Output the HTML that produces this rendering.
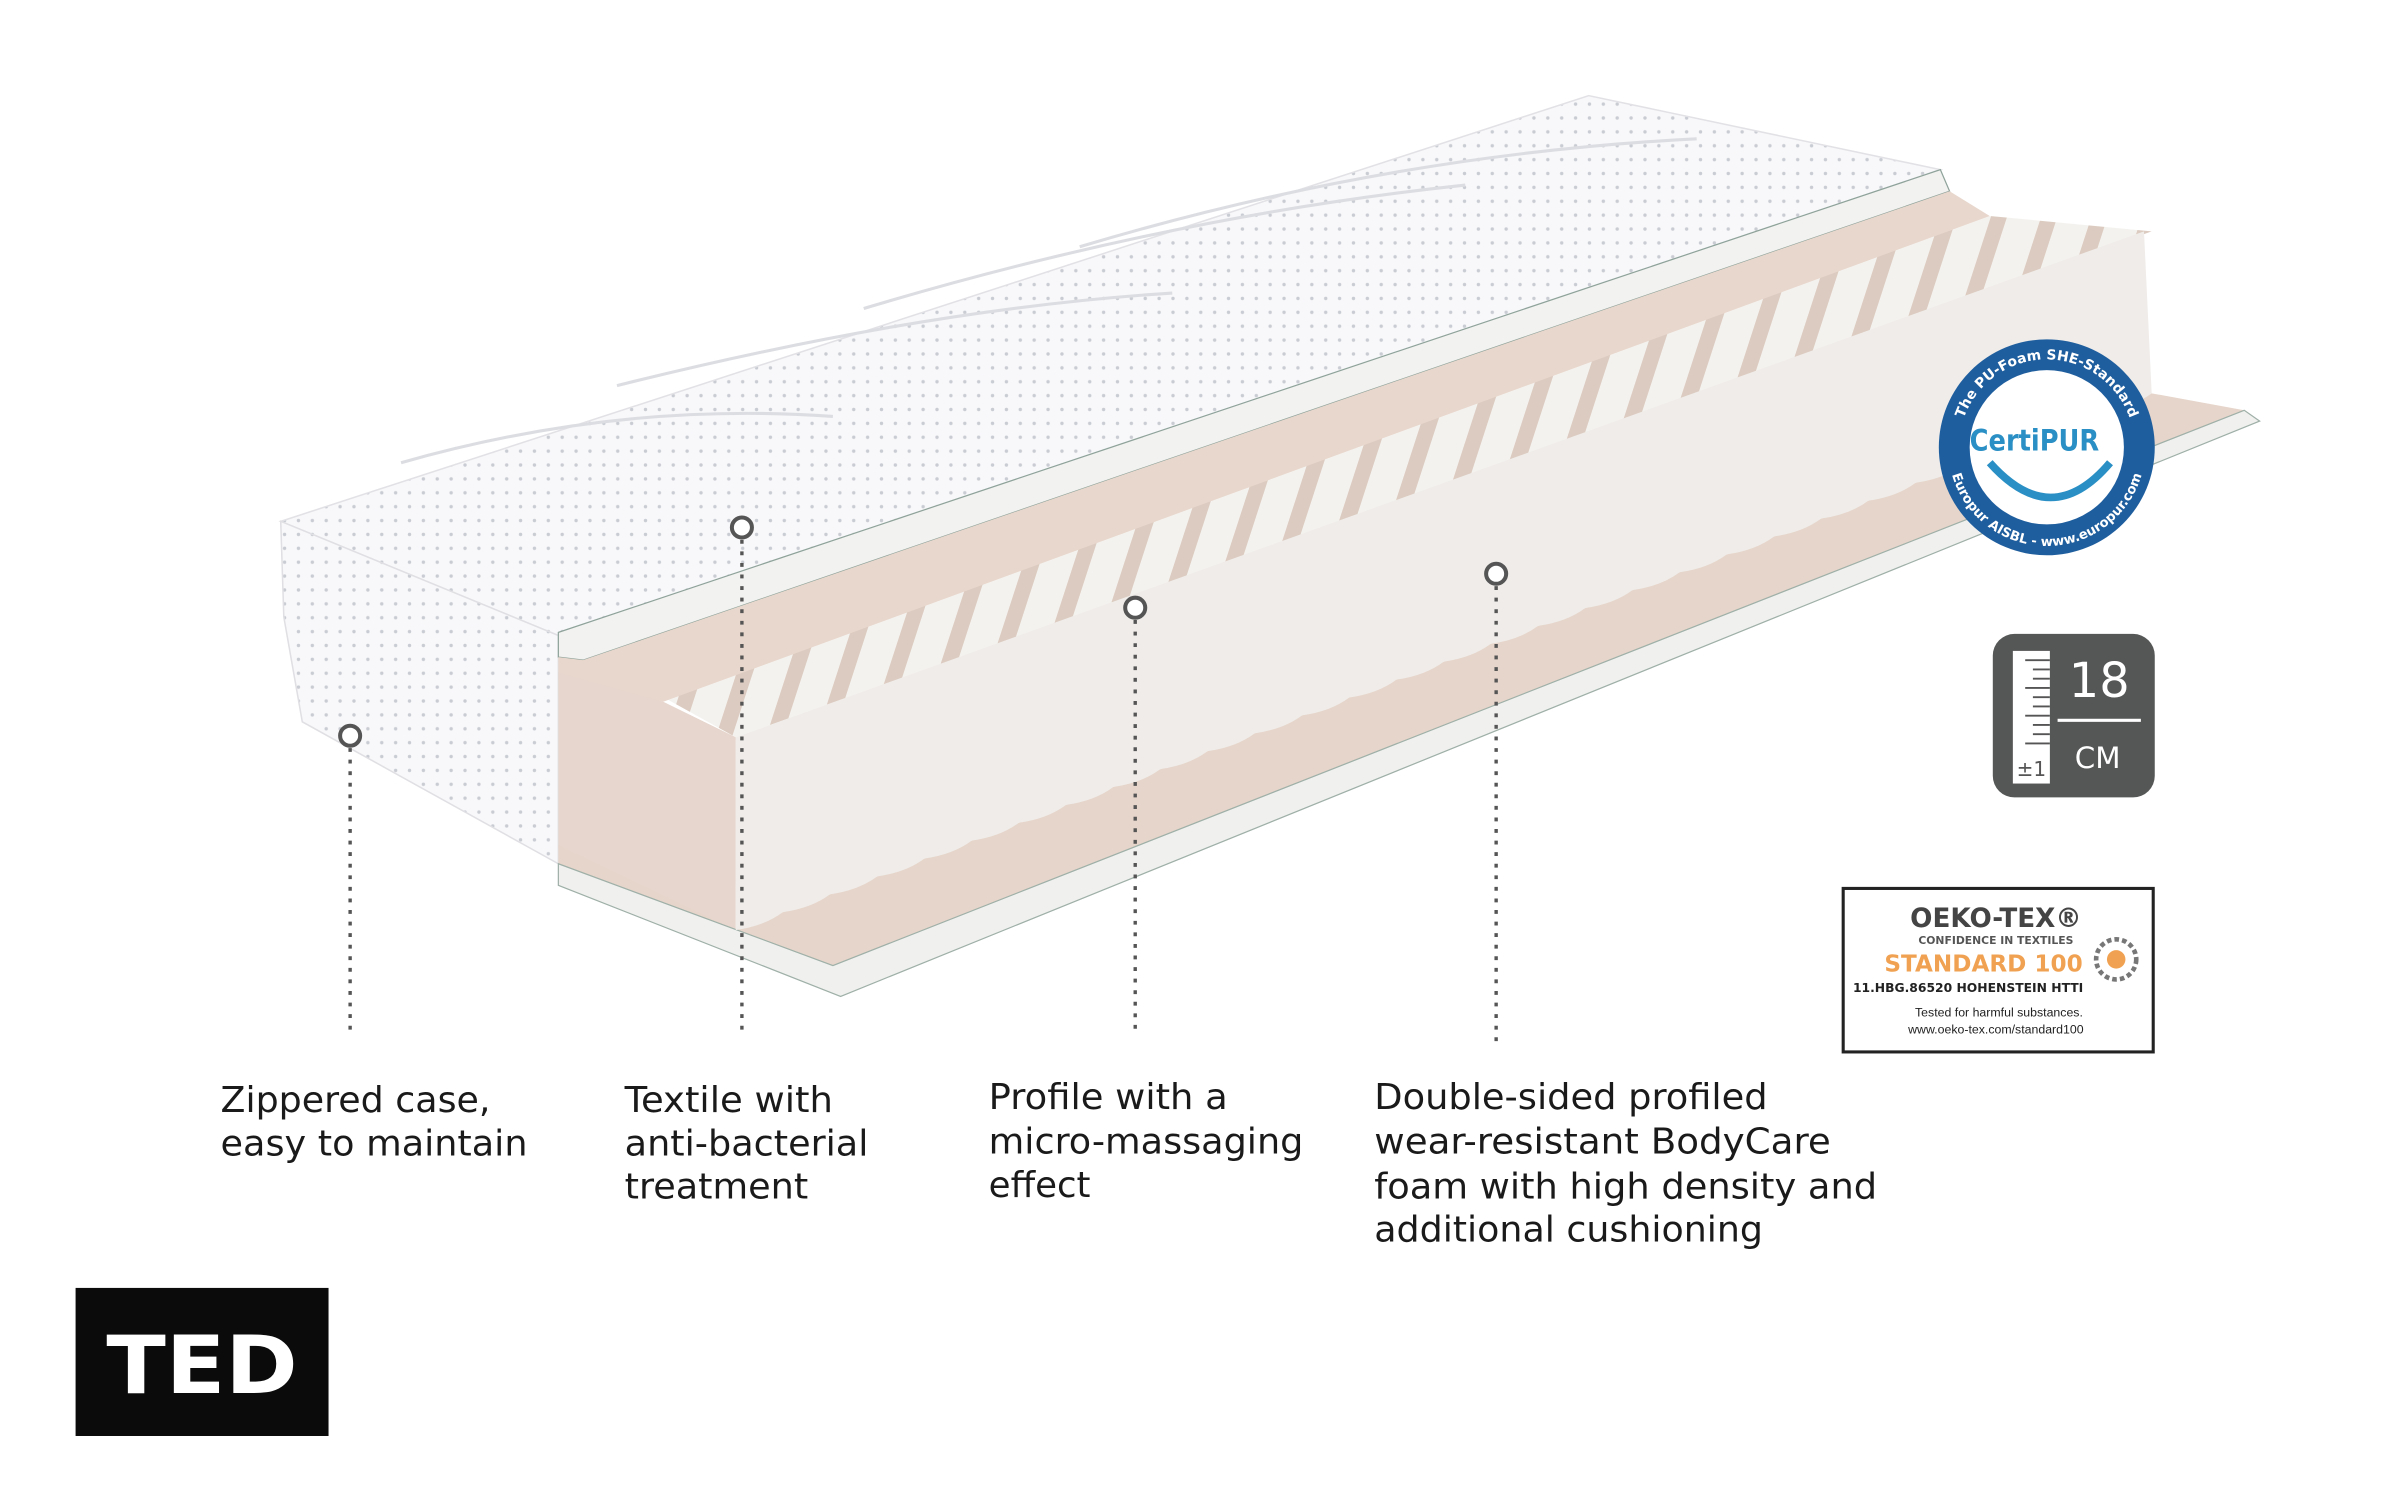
<!DOCTYPE html>
<html><head><meta charset="utf-8"><style>
html,body{margin:0;padding:0;background:#fff;width:2400px;height:1500px;overflow:hidden}
svg{display:block}
.lb{font-family:"DejaVu Sans","Liberation Sans",sans-serif;font-size:23px;fill:#1a1a1a}
</style></head><body>
<svg width="2400" height="1500" viewBox="0 0 1556 972.5" preserveAspectRatio="none" xmlns="http://www.w3.org/2000/svg">
<defs>
<pattern id="dots" width="9" height="9" patternUnits="userSpaceOnUse">
<rect width="9" height="9" fill="#f8f8fa"/><circle cx="4.5" cy="4.5" r="1.1" fill="#c9ccd3"/></pattern>
<pattern id="ridge" width="31" height="60" patternUnits="userSpaceOnUse" patternTransform="rotate(18)">
<rect width="31" height="60" fill="#f4f2ef"/><rect x="0" width="10" height="60" fill="#dccbc0"/></pattern>
</defs>
<!-- top surface -->
<polygon points="182,338 1030,62 1258,110 362,412" fill="url(#dots)" stroke="#e2e2e6"/>
<path d="M260,300 Q400,260 540,270 M400,250 Q600,200 760,190 M560,200 Q760,140 950,120 M700,160 Q900,100 1100,90" stroke="#dcdde2" fill="none" stroke-width="2"/>
<!-- left end face -->
<polygon points="182,338 362,412 362,560 196,468 184,400" fill="url(#dots)" stroke="#e0e0e4"/>
<!-- ridge band -->
<polygon points="430,452 1290,140 1395,150 477,478" fill="url(#ridge)"/>
<!-- top white layer -->
<polygon points="362,410 1258,110 1264,124 378,428 362,426" fill="#f2f2f0" stroke="#8fa39b" stroke-width="0.8"/>
<!-- upper beige band -->
<polygon points="378,428 1264,124 1290,140 430,455 362,440 362,426" fill="#e8d7cc"/>
<!-- beige left end -->
<polygon points="362,436 430,455 477,478 477,603 362,550" fill="#e6d6cd"/>
<!-- bottom beige -->
<polygon points="362,548 477,603 1395,255 1455,266 540,628 362,562" fill="#e6d5ca"/>
<!-- bottom white strip -->
<polygon points="362,560 540,626 1455,266 1465,273 545,646 362,574" fill="#f0f1ef" stroke="#9fb0a8" stroke-width="0.8"/>
<!-- foam front face with wavy bottom -->
<path d="M477,478 L1390,150 L1395,255 q-12,9 -30.6,11.6 q-12,9 -30.6,11.6 q-12,9 -30.6,11.6 q-12,9 -30.6,11.6 q-12,9 -30.6,11.6 q-12,9 -30.6,11.6 q-12,9 -30.6,11.6 q-12,9 -30.6,11.6 q-12,9 -30.6,11.6 q-12,9 -30.6,11.6 q-12,9 -30.6,11.6 q-12,9 -30.6,11.6 q-12,9 -30.6,11.6 q-12,9 -30.6,11.6 q-12,9 -30.6,11.6 q-12,9 -30.6,11.6 q-12,9 -30.6,11.6 q-12,9 -30.6,11.6 q-12,9 -30.6,11.6 q-12,9 -30.6,11.6 q-12,9 -30.6,11.6 q-12,9 -30.6,11.6 q-12,9 -30.6,11.6 q-12,9 -30.6,11.6 q-12,9 -30.6,11.6 q-12,9 -30.6,11.6 q-12,9 -30.6,11.6 q-12,9 -30.6,11.6 q-12,9 -30.6,11.6 q-12,9 -30.6,11.6 Z" fill="#efece9"/>
<!-- connectors -->
<g stroke="#555" stroke-width="2.2" stroke-dasharray="2.5 5" fill="none">
<line x1="227" y1="485" x2="227" y2="670"/>
<line x1="481" y1="350" x2="481" y2="670"/>
<line x1="736" y1="402" x2="736" y2="668"/>
<line x1="970" y1="380" x2="970" y2="678"/>
</g>
<g fill="#fff" stroke="#555" stroke-width="2.6">
<circle cx="227" cy="477" r="6.5"/><circle cx="481" cy="342" r="6.5"/><circle cx="736" cy="394" r="6.5"/><circle cx="970" cy="372" r="6.5"/>
</g>
<!-- labels -->
<text class="lb" x="143" y="721" textLength="175" lengthAdjust="spacingAndGlyphs">Zippered case,</text>
<text class="lb" x="143" y="749" textLength="199" lengthAdjust="spacingAndGlyphs">easy to maintain</text>
<text class="lb" x="405" y="721" textLength="135" lengthAdjust="spacingAndGlyphs">Textile with</text>
<text class="lb" x="405" y="749" textLength="158" lengthAdjust="spacingAndGlyphs">anti-bacterial</text>
<text class="lb" x="405" y="777" textLength="119" lengthAdjust="spacingAndGlyphs">treatment</text>
<text class="lb" x="641" y="719" textLength="155" lengthAdjust="spacingAndGlyphs">Profile with a</text>
<text class="lb" x="641" y="748" textLength="204" lengthAdjust="spacingAndGlyphs">micro-massaging</text>
<text class="lb" x="641" y="776" textLength="66" lengthAdjust="spacingAndGlyphs">effect</text>
<text class="lb" x="891" y="719" textLength="255" lengthAdjust="spacingAndGlyphs">Double-sided profiled</text>
<text class="lb" x="891" y="748" textLength="296" lengthAdjust="spacingAndGlyphs">wear-resistant BodyCare</text>
<text class="lb" x="891" y="777" textLength="326" lengthAdjust="spacingAndGlyphs">foam with high density and</text>
<text class="lb" x="891" y="805" textLength="252" lengthAdjust="spacingAndGlyphs">additional cushioning</text>
<!-- TED logo -->
<rect x="49" y="835" width="164" height="96" fill="#0b0b0b"/>
<text x="131" y="903" text-anchor="middle" font-family="DejaVu Sans,sans-serif" font-weight="bold" font-size="52" fill="#fff" textLength="124" lengthAdjust="spacingAndGlyphs">TED</text>
<!-- CertiPUR -->
<circle cx="1327" cy="290" r="70" fill="#1f5e9e"/>
<circle cx="1327" cy="290" r="50" fill="#fff"/>
<path d="M1290,300 Q1330,345 1368,300" stroke="#2a8fc4" stroke-width="5" fill="none"/>
<text x="1319" y="292" text-anchor="middle" font-family="DejaVu Sans,sans-serif" font-weight="bold" font-size="19" fill="#2a8fc4" textLength="84" lengthAdjust="spacingAndGlyphs">CertiPUR</text>
<path id="arcT" d="M1270,290 A57,57 0 0 1 1384,290" fill="none"/>
<path id="arcB" d="M1263,290 A64,64 0 0 0 1391,290" fill="none"/>
<text font-family="DejaVu Sans,sans-serif" font-size="9" font-weight="bold" fill="#fff"><textPath href="#arcT" startOffset="50%" text-anchor="middle">The PU-Foam SHE-Standard</textPath></text>
<text font-family="DejaVu Sans,sans-serif" font-size="8.5" font-weight="bold" fill="#fff"><textPath href="#arcB" startOffset="50%" text-anchor="middle">Europur AISBL - www.europur.com</textPath></text>
<!-- 18 cm badge -->
<rect x="1292" y="411" width="105" height="106" rx="14" fill="#555656"/>
<rect x="1305" y="422" width="24" height="86" fill="#fff"/>
<g stroke="#555" stroke-width="1.2"><line x1="1313" y1="428" x2="1329" y2="428"/><line x1="1318" y1="434" x2="1329" y2="434"/><line x1="1318" y1="440" x2="1329" y2="440"/><line x1="1313" y1="446" x2="1329" y2="446"/><line x1="1318" y1="452" x2="1329" y2="452"/><line x1="1318" y1="458" x2="1329" y2="458"/><line x1="1313" y1="464" x2="1329" y2="464"/><line x1="1318" y1="470" x2="1329" y2="470"/><line x1="1318" y1="476" x2="1329" y2="476"/><line x1="1313" y1="482" x2="1329" y2="482"/></g>
<text x="1317" y="503" text-anchor="middle" font-family="DejaVu Sans,sans-serif" font-size="13" fill="#555">±1</text>
<text x="1361" y="452" text-anchor="middle" font-family="DejaVu Sans,sans-serif" font-size="31" fill="#fff">18</text>
<rect x="1334" y="466" width="54" height="2" fill="#fff"/>
<text x="1360" y="498" text-anchor="middle" font-family="DejaVu Sans,sans-serif" font-size="19" fill="#fff">CM</text>
<!-- OEKO-TEX -->
<rect x="1195" y="576" width="201" height="106" fill="#fff" stroke="#222" stroke-width="2"/>
<text x="1294" y="601" text-anchor="middle" font-family="DejaVu Sans,sans-serif" font-weight="bold" font-size="17" fill="#444">OEKO-TEX®</text>
<text x="1294" y="612" text-anchor="middle" font-family="DejaVu Sans,sans-serif" font-weight="bold" font-size="7" fill="#555">CONFIDENCE IN TEXTILES</text>
<text x="1286" y="630" text-anchor="middle" font-family="DejaVu Sans,sans-serif" font-weight="bold" font-size="15" fill="#f0a252">STANDARD 100</text>
<text x="1276" y="643" text-anchor="middle" font-family="DejaVu Sans,sans-serif" font-weight="bold" font-size="8" fill="#222">11.HBG.86520 HOHENSTEIN HTTI</text>
<text x="1296" y="659" text-anchor="middle" font-family="Liberation Sans,sans-serif" font-size="8" fill="#222">Tested for harmful substances.</text>
<text x="1294" y="670" text-anchor="middle" font-family="Liberation Sans,sans-serif" font-size="8" fill="#222">www.oeko-tex.com/standard100</text>
<circle cx="1372" cy="622" r="13" fill="none" stroke="#777" stroke-width="3" stroke-dasharray="3 2"/>
<circle cx="1372" cy="622" r="6" fill="#f0a252"/>
</svg>
</body></html>
